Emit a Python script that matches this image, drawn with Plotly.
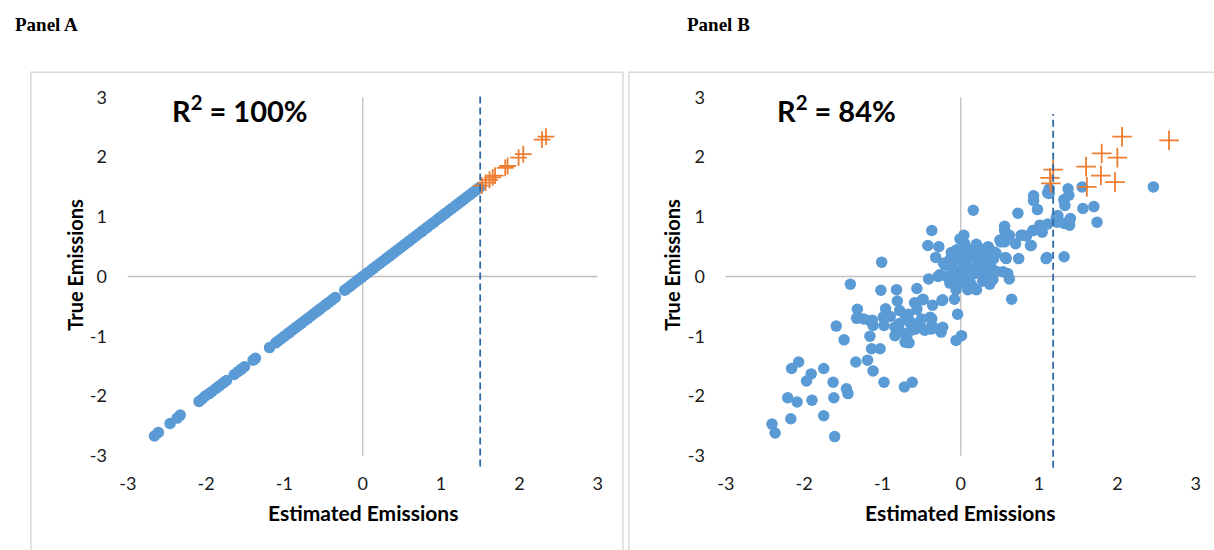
import plotly.graph_objects as go

W, H = 1214, 550

# ---------------- data ----------------
tick_vals = [-3, -2, -1, 0, 1, 2, 3]
tick_text = ["-3", "-2", "-1", "0", "1", "2", "3"]

# Panel A: estimated vs true emissions (R^2 = 100%)
a_est_blue = [-2.66, -2.61, -2.46, -2.37, -2.33, -2.09, -2.05, -2.01, -1.96, -1.92, -1.87,
              -1.83, -1.78, -1.74, -1.64, -1.59, -1.55, -1.51, -1.40, -1.37, -1.19, -1.11,
              -1.08, -1.04, -1.00, -0.96, -0.93, -0.89, -0.85, -0.81, -0.78, -0.74, -0.70,
              -0.66, -0.62, -0.58, -0.55, -0.51, -0.47, -0.43, -0.39, -0.35, -0.23, -0.20,
              -0.16, -0.12, -0.08, -0.05, -0.01, 0.03, 0.07, 0.11, 0.14, 0.18, 0.22, 0.26,
              0.30, 0.34, 0.37, 0.41, 0.45, 0.49, 0.53, 0.57, 0.60, 0.64, 0.68, 0.72, 0.76,
              0.80, 0.83, 0.87, 0.91, 0.95, 0.99, 1.03, 1.06, 1.10, 1.14, 1.18, 1.22, 1.26,
              1.29, 1.33, 1.37, 1.41, 1.45, 1.49]
a_true_blue = [-2.67, -2.61, -2.46, -2.37, -2.32, -2.09, -2.05, -2.00, -1.96, -1.92, -1.87,
               -1.83, -1.78, -1.74, -1.64, -1.59, -1.55, -1.51, -1.40, -1.37, -1.19, -1.11,
               -1.08, -1.04, -1.00, -0.96, -0.93, -0.89, -0.85, -0.81, -0.78, -0.74, -0.70,
               -0.66, -0.62, -0.58, -0.55, -0.51, -0.47, -0.43, -0.39, -0.35, -0.23, -0.20,
               -0.16, -0.12, -0.08, -0.05, -0.01, 0.03, 0.07, 0.11, 0.14, 0.18, 0.22, 0.26,
               0.30, 0.34, 0.37, 0.41, 0.45, 0.49, 0.53, 0.57, 0.60, 0.64, 0.68, 0.72, 0.76,
               0.80, 0.83, 0.87, 0.91, 0.95, 0.99, 1.03, 1.06, 1.10, 1.14, 1.18, 1.22, 1.26,
               1.29, 1.33, 1.37, 1.41, 1.45, 1.49]
a_est_orange = [1.52, 1.57, 1.62, 1.66, 1.69, 1.82, 1.85, 1.99, 2.05, 2.29, 2.34]
a_true_orange = [1.52, 1.57, 1.62, 1.66, 1.69, 1.82, 1.85, 1.99, 2.05, 2.29, 2.34]
threshold_a = 1.5
dash_span_a = [-3.18, 3.05]
r2_a = "100%"

# Panel B: estimated vs true emissions (R^2 = 84%)
b_est_blue = [
    -1.41, -1.02, -0.82, -0.56, -0.41, -0.29, -0.16, -0.08, -0.24, -0.36, -0.48, -0.59,
    -0.81, -0.96, -1.32, -1.33, -1.24, -1.13, -1.12, -0.99, -0.90, -0.98, -0.78, -0.67,
    -0.63, -0.79, -0.76, -0.56, -0.50, -0.37, -0.37, -0.46, -0.63, -0.84, -0.71, -0.66,
    -0.23, -0.25, -0.04, -0.06, 0.01, -0.08, -1.59, -1.49, -1.16, -1.14, -1.03, -1.34,
    -1.19, -1.12, -0.98, -0.72, -0.62, -2.07, -2.16, -1.91, -1.97, -1.75, -1.63, -1.46,
    -1.44, -2.21, -2.09, -1.90, -1.62, -2.17, -1.75, -2.41, -2.37, -1.61,
    -1.16, -0.84, -0.71, -0.65, -0.58, -0.69, -0.51, -0.38, -0.27, -0.39, -0.23, -0.49,
    2.46, 0.16, 1.13, 1.13, 1.37, 1.38, 1.32, 1.33, 1.55, 1.56, 1.70, 1.74, 1.40, 1.39,
    1.24, 1.23, 1.11, 0.93, 0.93, 0.98, 0.73, 0.56, 0.56, 1.01, 1.04, 0.93, 0.89, 0.84,
    0.77, 0.70, 0.50, 0.56, 0.43, 0.57, 0.74, 1.10, 1.32, 0.04, -0.01, 0.20, 0.24, 0.33,
    0.18, -0.37, -0.42, -0.28, -0.32, -1.01, 0.25, 0.16, -0.14, -0.20, -0.06, 0.03, -0.10,
    -0.27, -0.18, -0.01, 0.09, 0.11, 0.05, -0.14, -0.06, 0.09, 0.20, 0.28, 0.37, 0.41,
    0.33, 0.45, 0.54, 0.60, 0.62, 0.65, 0.45, 0.33, 0.58, 0.51, 0.62, 0.79, 0.90, 0.92,
    1.03, 1.09, 1.22, 1.32, 1.11, 1.32, 0.15, 0.22, 0.12, 0.18, 0.25, 0.02, -0.05, 0.08,
    0.28, 0.38, 0.10, -0.22, 0.30, 0.14, -0.02, 0.42, 0.35, 0.05, -0.12, 0.20]
b_true_blue = [
    -0.13, -0.23, -0.22, -0.20, -0.04, 0.00, 0.00, -0.05, -0.40, -0.48, -0.38, -0.44,
    -0.41, -0.54, -0.55, -0.70, -0.71, -0.73, -0.82, -0.68, -0.67, -0.82, -0.57, -0.63,
    -0.77, -0.79, -0.93, -0.55, -0.71, -0.71, -0.82, -0.90, -0.90, -0.99, -1.10, -1.11,
    -0.85, -0.93, -0.63, -1.07, -0.99, -0.38, -0.83, -1.06, -1.00, -1.21, -1.21, -1.43,
    -1.40, -1.58, -1.77, -1.85, -1.77, -1.43, -1.54, -1.63, -1.75, -1.54, -1.77, -1.88,
    -1.96, -2.03, -2.10, -2.07, -2.03, -2.38, -2.33, -2.47, -2.62, -2.68,
    -0.74, -0.85, -0.71, -0.77, -0.88, -1.01, -0.85, -0.88, -0.88, -0.68, -0.39, -0.39,
    1.50, 1.11, 1.47, 1.39, 1.47, 1.36, 1.28, 1.19, 1.50, 1.14, 1.17, 0.91, 0.97, 0.86,
    1.02, 0.91, 0.88, 1.35, 1.27, 1.12, 1.06, 0.84, 0.77, 0.86, 0.74, 0.77, 0.52, 0.68,
    0.69, 0.55, 0.61, 0.58, 0.41, 0.32, 0.30, 0.32, 0.33, 0.69, 0.63, 0.54, 0.47, 0.39,
    0.37, 0.77, 0.52, 0.50, 0.32, 0.24, 0.44, 0.39, 0.28, 0.19, 0.30, 0.22, 0.14,
    0.03, 0.00, 0.09, 0.17, 0.03, -0.05, -0.11, -0.22, -0.22, -0.22, -0.08, -0.13, -0.05,
    0.06, 0.09, 0.08, 0.05, -0.04, -0.38, 0.39, 0.28, 0.30, 0.58, 0.69, 0.69, 0.52, 0.77,
    0.85, 0.30, 0.99, 0.89, 1.40, 1.29, 0.10, 0.18, -0.10, 0.05, 0.12, 0.35, 0.45, 0.30,
    0.25, 0.20, 0.45, 0.22, -0.02, -0.15, -0.12, 0.30, 0.50, 0.55, 0.40, 0.30]
b_est_orange = [1.18, 1.14, 1.15, 1.60, 1.61, 1.80, 1.79, 2.00, 1.97, 2.06, 2.66]
b_true_orange = [1.79, 1.65, 1.56, 1.84, 1.50, 2.06, 1.69, 1.99, 1.58, 2.34, 2.28]
threshold_b = 1.18
dash_span_b = [-3.2, 2.72]
r2_b = "84%"

# ---------------- layout helpers ----------------
AX_MIN, AX_MAX = -3, 3
X_RANGE = [-3.05, 3.05]
Y_RANGE = [-3.25, 3.1]
X_UNIT = 78.7   # px per data unit
Y_UNIT = 60.4
Y_ZERO_PX = 273.5
A_X_ZERO_PX = 359.5
B_X_ZERO_PX = 960.5

def xdom(zero_px):
    return [(zero_px + X_RANGE[0] * X_UNIT) / W, (zero_px + X_RANGE[1] * X_UNIT) / W]

ydom = [1 - (Y_ZERO_PX - Y_RANGE[0] * Y_UNIT) / H, 1 - (Y_ZERO_PX - Y_RANGE[1] * Y_UNIT) / H]

BLUE = "#5B9BD5"
ORANGE = "#ED7D31"
DASH = "#2E6BA6"
ZERO = "#BFBFBF"
FONT = "Lato, Carlito, Calibri, sans-serif"
TICKC = "#1a1a1a"

fig = go.Figure()

def add_panel(xs, ys, xo, yo, xa, ya, cross_size):
    fig.add_trace(go.Scatter(x=xs, y=ys, mode="markers", xaxis=xa, yaxis=ya,
                             marker=dict(color=BLUE, size=11.5, line=dict(width=0)),
                             showlegend=False, hoverinfo="skip"))
    fig.add_trace(go.Scatter(x=xo, y=yo, mode="markers", xaxis=xa, yaxis=ya,
                             marker=dict(symbol="cross-thin", size=cross_size,
                                         color=ORANGE, line=dict(color=ORANGE, width=1.8)),
                             showlegend=False, hoverinfo="skip", cliponaxis=False))

add_panel(a_est_blue, a_true_blue, a_est_orange, a_true_orange, "x", "y", 12)
add_panel(b_est_blue, b_true_blue, b_est_orange, b_true_orange, "x2", "y2", 14)

tick_font = dict(family=FONT, size=18, color=TICKC)
axis_common = dict(showgrid=False, zeroline=False, showline=False, ticks="",
                   tickmode="array", tickvals=tick_vals, ticktext=tick_text,
                   tickfont=tick_font, fixedrange=True)

layout = dict(
    width=W, height=H, autosize=False,
    margin=dict(l=0, r=0, t=0, b=0),
    paper_bgcolor="white", plot_bgcolor="white",
    xaxis=dict(domain=xdom(A_X_ZERO_PX), range=X_RANGE, anchor="y", **axis_common),
    yaxis=dict(domain=ydom, range=Y_RANGE, anchor="x", ticklabelstandoff=16, **axis_common),
    xaxis2=dict(domain=xdom(B_X_ZERO_PX), range=X_RANGE, anchor="y2", **axis_common),
    yaxis2=dict(domain=ydom, range=Y_RANGE, anchor="x2", ticklabelstandoff=16, **axis_common),
)
fig.update_layout(**layout)

shapes = []
# panel frames
shapes.append(dict(type="rect", xref="paper", yref="paper", x0=26 / W, x1=621 / W,
                   y0=-0.05, y1=1 - 67 / H, line=dict(color="#D9D9D9", width=1.5), layer="below"))
shapes.append(dict(type="rect", xref="paper", yref="paper", x0=627 / W, x1=1.05,
                   y0=-0.05, y1=1 - 67 / H, line=dict(color="#D9D9D9", width=1.5), layer="below"))
for xa, ya, thr, span in (("x", "y", threshold_a, dash_span_a), ("x2", "y2", threshold_b, dash_span_b)):
    shapes.append(dict(type="line", xref=xa, yref=ya, x0=AX_MIN, x1=AX_MAX, y0=0, y1=0,
                       line=dict(color=ZERO, width=1.3), layer="below"))
    shapes.append(dict(type="line", xref=xa, yref=ya, x0=0, x1=0, y0=AX_MIN, y1=AX_MAX,
                       line=dict(color=ZERO, width=1.3), layer="below"))
    shapes.append(dict(type="line", xref=xa, yref=ya, x0=thr, x1=thr, y0=span[0], y1=span[1],
                       line=dict(color=DASH, width=1.8, dash="7px,4px"), layer="above"))
fig.update_layout(shapes=shapes)

ann = []
for txt, px in (("Panel A", 8), ("Panel B", 683)):
    ann.append(dict(text="<b>" + txt + "</b>", x=px / W, y=1 - 19 / H, xref="paper", yref="paper",
                    xanchor="left", yanchor="middle", showarrow=False,
                    font=dict(family="Liberation Serif, Times New Roman, serif", size=19, color="black")))
for r2, px in ((r2_a, 236), (r2_b, 836)):
    ann.append(dict(text="<b>R<sup>2</sup> = " + r2 + "</b>", x=px / W, y=1 - 104 / H,
                    xref="paper", yref="paper", xanchor="center", yanchor="middle",
                    showarrow=False, font=dict(family=FONT, size=29, color="black")))
for px in (360, 960):
    ann.append(dict(text="<b>Estimated Emissions</b>", x=px / W, y=1 - 512 / H,
                    xref="paper", yref="paper", xanchor="center", yanchor="middle",
                    showarrow=False, font=dict(family=FONT, size=21, color="black")))
for px in (70, 670):
    ann.append(dict(text="<b>True Emissions</b>", x=px / W, y=1 - 262 / H, textangle=-90,
                    xref="paper", yref="paper", xanchor="center", yanchor="middle",
                    showarrow=False, font=dict(family=FONT, size=20, color="black")))
fig.update_layout(annotations=ann)

fig.write_html("out.html", config={"displayModeBar": False})
